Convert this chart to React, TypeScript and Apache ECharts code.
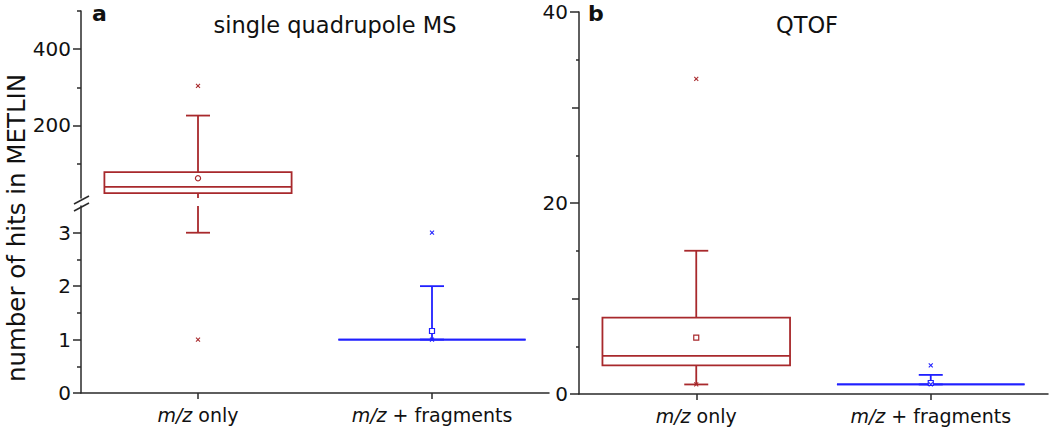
import React, { useEffect, useRef } from "react";
import * as echarts from "echarts";

// ---- data ----
const CATEGORIES = ["m/z only", "m/z + fragments"];
// box statistics: [whisker low, Q1, median, Q3, whisker high]
const QUAD_BOX = [
  [3, 23, 39, 78, 226],
  [1, 1, 1, 1, 2],
];
const QUAD_MEAN = [62, 1.16];
const QUAD_EXTREMES = [
  [1, 304],
  [1, 3],
];
const QTOF_BOX = [
  [1, 3, 4, 8, 15],
  [1, 1, 1, 1, 2],
];
const QTOF_MEAN = [5.9, 1.15];
const QTOF_EXTREMES = [
  [1, 33],
  [1, 3],
];
// axis ticks
const QUAD_UPPER_LABELS = [200, 400];
const QUAD_UPPER_MINOR = [100, 300, 500];
const QUAD_LOWER_LABELS = [0, 1, 2, 3];
const QUAD_LOWER_MINOR = [0.5, 1.5, 2.5];
const QTOF_LABELS = [0, 20, 40];
const QTOF_MID = [10, 30];
const QTOF_MINOR = [5, 15, 25, 35];

const COLORS = ["#a8292c", "#2020ff"];
const FONT = "DejaVu Sans";
const AXIS_COLOR = "#2a2a2a";

function rows(box: number[][], mean: number[], ext: number[][]) {
  return box.map((b, i) => [i, ...b, mean[i], ...ext[i]]);
}

function makeRender(lo: number, hi: number, shapes: string[]) {
  return (params: any, api: any) => {
    const i = api.value(0);
    const low = api.value(1), q1 = api.value(2), med = api.value(3), q3 = api.value(4), high = api.value(5);
    const mean = api.value(6), p1 = api.value(7), p99 = api.value(8);
    const color = COLORS[i];
    const cx = api.coord([i, lo])[0];
    const bw = api.size([1, 0])[0] * 0.8;
    const capW = 24;
    const cl = (v: number) => Math.min(hi, Math.max(lo, v));
    const Y = (v: number) => api.coord([i, cl(v)])[1];
    const inR = (v: number) => v >= lo && v <= hi;
    const ls = { stroke: color, lineWidth: 1.8, fill: "none" };
    const ch: any[] = [];
    const hline = (y: number, w: number) =>
      ch.push({ type: "line", shape: { x1: cx - w / 2, y1: y, x2: cx + w / 2, y2: y }, style: ls });
    const vline = (y1: number, y2: number) => {
      if (Math.abs(y1 - y2) > 0.5) ch.push({ type: "line", shape: { x1: cx, y1, x2: cx, y2 }, style: ls });
    };
    if (high >= lo && q3 <= hi) vline(Y(q3), Y(high));
    if (q1 >= lo && low <= hi) vline(Y(low), Y(q1));
    if (inR(high)) hline(Y(high), capW);
    if (inR(low)) hline(Y(low), capW);
    if (q3 >= lo && q1 <= hi) {
      const yt = Y(q3), yb = Y(q1);
      ch.push({
        type: "polygon",
        shape: { points: [[cx - bw / 2, yt], [cx + bw / 2, yt], [cx + bw / 2, yb], [cx - bw / 2, yb]] },
        style: ls,
      });
    }
    if (inR(med)) hline(Y(med), bw);
    if (inR(mean)) {
      const ym = Y(mean);
      if (shapes[i] === "circle") {
        ch.push({ type: "circle", shape: { cx, cy: ym, r: 2.6 }, style: { stroke: color, fill: "#fff", lineWidth: 1.2 } });
      } else {
        ch.push({ type: "rect", shape: { x: cx - 2.5, y: ym - 2.5, width: 5, height: 5 }, style: { stroke: color, fill: "#fff", lineWidth: 1.2 } });
      }
    }
    [p1, p99].forEach((v) => {
      if (inR(v)) {
        const y = Y(v), s = 2;
        const xs = { stroke: color, lineWidth: 1.1 };
        ch.push({ type: "line", shape: { x1: cx - s, y1: y - s, x2: cx + s, y2: y + s }, style: xs });
        ch.push({ type: "line", shape: { x1: cx - s, y1: y + s, x2: cx + s, y2: y - s }, style: xs });
      }
    });
    return { type: "group", children: ch };
  };
}

const labelStyle = { color: "#111", fontFamily: FONT, fontSize: 19 };

function catAxis(gridIndex: number, show: boolean) {
  return {
    type: "category",
    gridIndex,
    data: CATEGORIES,
    show,
    boundaryGap: true,
    axisLine: { show, lineStyle: { color: AXIS_COLOR, width: 1.5 } },
    axisTick: { show, alignWithLabel: true, interval: 0, length: 6, lineStyle: { color: AXIS_COLOR, width: 1.5 } },
    axisLabel: {
      show,
      interval: 0,
      hideOverlap: false,
      margin: 12,
      ...labelStyle,
      formatter: (v: string) => v.replace("m/z", "{i|m/z}"),
      rich: { i: { fontStyle: "italic", fontFamily: FONT, fontSize: 19, color: "#111" } },
    },
    splitLine: { show: false },
  };
}

function valAxis(gridIndex: number, min: number, max: number, ticks: number[], len: number, labels: boolean, margin = 10) {
  return {
    type: "value",
    gridIndex,
    position: "left",
    offset: 0,
    min,
    max,
    axisLine: { show: labels, lineStyle: { color: AXIS_COLOR, width: 1.5 } },
    axisTick: { show: true, length: len, customValues: ticks, lineStyle: { color: AXIS_COLOR, width: 1.5 } },
    axisLabel: labels ? { show: true, customValues: ticks, margin, ...labelStyle, fontSize: 20 } : { show: false },
    splitLine: { show: false },
  };
}

export default function App() {
  const ref = useRef<HTMLDivElement>(null);
  useEffect(() => {
    if (!ref.current) return;
    const chart = echarts.init(ref.current, undefined, { renderer: "svg" });
    const quadRows = rows(QUAD_BOX, QUAD_MEAN, QUAD_EXTREMES);
    const qtofRows = rows(QTOF_BOX, QTOF_MEAN, QTOF_EXTREMES);
    const enc = { x: 0, y: [1, 2, 3, 4, 5] };
    chart.setOption({
      animation: false,
      backgroundColor: "#fff",
      grid: [
        { left: 81, top: 11, width: 468, height: 187 },
        { left: 81, top: 206, width: 468, height: 187 },
        { left: 579, top: 12, width: 469, height: 382 },
      ],
      xAxis: [catAxis(0, false), catAxis(1, true), catAxis(2, true)],
      yAxis: [
        valAxis(0, 10, 500, QUAD_UPPER_LABELS, 8, true),
        valAxis(0, 10, 500, QUAD_UPPER_MINOR, 4, false),
        valAxis(1, 0, 3.5, QUAD_LOWER_LABELS, 8, true),
        valAxis(1, 0, 3.5, QUAD_LOWER_MINOR, 4, false),
        valAxis(2, 0, 40, QTOF_LABELS, 9, true, 11),
        valAxis(2, 0, 40, QTOF_MID, 7, false),
        valAxis(2, 0, 40, QTOF_MINOR, 3, false),
      ],
      series: [
        { type: "custom", xAxisIndex: 0, yAxisIndex: 0, data: quadRows, encode: enc, clip: false, renderItem: makeRender(10, 500, ["circle", "square"]) },
        { type: "custom", xAxisIndex: 1, yAxisIndex: 2, data: quadRows, encode: enc, clip: false, renderItem: makeRender(0, 3.5, ["circle", "square"]) },
        { type: "custom", xAxisIndex: 2, yAxisIndex: 4, data: qtofRows, encode: enc, clip: false, renderItem: makeRender(0, 40, ["square", "square"]) },
      ],
      graphic: [
        { type: "text", x: 92, y: 13, style: { text: "a", font: `bold 22px "${FONT}"`, fill: "#111", align: "left", verticalAlign: "middle" } },
        { type: "text", x: 588, y: 13, style: { text: "b", font: `bold 22px "${FONT}"`, fill: "#111", align: "left", verticalAlign: "middle" } },
        { type: "text", x: 335, y: 25, style: { text: "single quadrupole MS", font: `22.5px "${FONT}"`, fill: "#111", align: "center", verticalAlign: "middle" } },
        { type: "text", x: 807, y: 25, style: { text: "QTOF", font: `22.5px "${FONT}"`, fill: "#111", align: "center", verticalAlign: "middle" } },
        { type: "text", x: 16, y: 228, rotation: Math.PI / 2, style: { text: "number of hits in METLIN", font: `24.5px "${FONT}"`, fill: "#111", align: "center", verticalAlign: "middle" } },
        { type: "rect", shape: { x: 78, y: 199, width: 8, height: 6 }, style: { fill: "#fff" } },
        { type: "line", shape: { x1: 74, y1: 204, x2: 89, y2: 196 }, style: { stroke: AXIS_COLOR, lineWidth: 1.5 } },
        { type: "line", shape: { x1: 74, y1: 211, x2: 89, y2: 203 }, style: { stroke: AXIS_COLOR, lineWidth: 1.5 } },
      ],
    });
    return () => chart.dispose();
  }, []);
  return <div ref={ref} style={{ position: "absolute", left: 0, top: 0, width: 1050, height: 431 }} />;
}
